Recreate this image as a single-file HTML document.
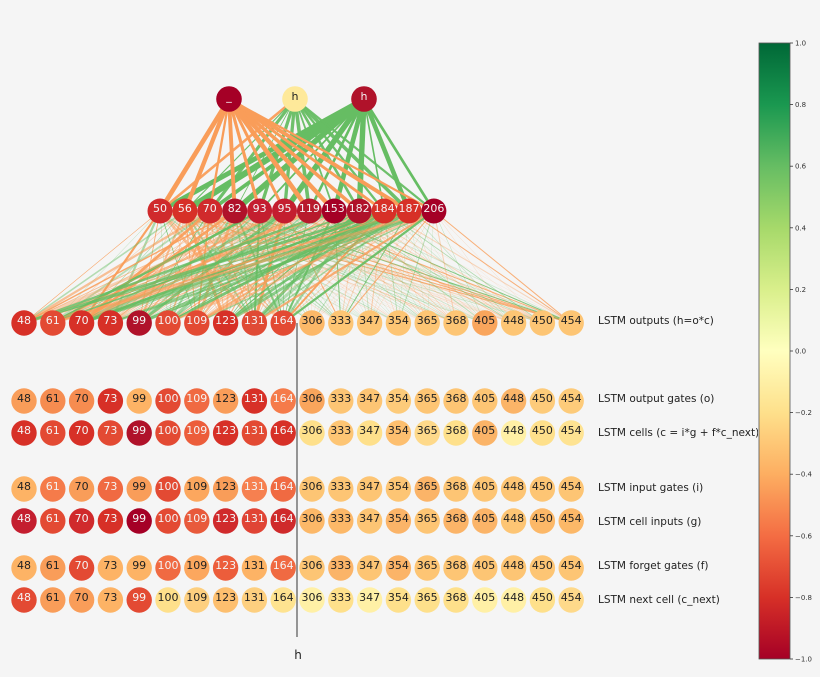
<!DOCTYPE html>
<html><head><meta charset="utf-8">
<style>
html,body{margin:0;padding:0;background:#f5f5f5;}
svg{display:block;}
text{font-family:"DejaVu Sans","Liberation Sans",sans-serif;}
</style></head>
<body>
<svg id="s" width="820" height="677" viewBox="0 0 820 677" xmlns="http://www.w3.org/2000/svg">
<defs>
<linearGradient id="cb" x1="0" y1="0" x2="0" y2="1">
<stop offset="0" stop-color="#006837"/>
<stop offset="0.1" stop-color="#1a9850"/>
<stop offset="0.2" stop-color="#66bd63"/>
<stop offset="0.3" stop-color="#a6d96a"/>
<stop offset="0.4" stop-color="#d9ef8b"/>
<stop offset="0.5" stop-color="#ffffbf"/>
<stop offset="0.6" stop-color="#fee08b"/>
<stop offset="0.7" stop-color="#fdae61"/>
<stop offset="0.8" stop-color="#f46d43"/>
<stop offset="0.9" stop-color="#d73027"/>
<stop offset="1" stop-color="#a50026"/>
</linearGradient>
</defs>
<rect width="820" height="677" fill="#f5f5f5"/>
<g id="edges"></g>
<line x1="297" y1="323" x2="297" y2="637" stroke="#555" stroke-width="1.2"/>
<g id="nodes"></g>
<text x="298" y="659" font-size="12" text-anchor="middle" fill="#222">h</text>
<g font-size="10.5" fill="#222">
<text x="598" y="324">LSTM outputs (h=o*c)</text>
<text x="598" y="402">LSTM output gates (o)</text>
<text x="598" y="436">LSTM cells (c = i*g + f*c_next)</text>
<text x="598" y="491">LSTM input gates (i)</text>
<text x="598" y="525">LSTM cell inputs (g)</text>
<text x="598" y="569">LSTM forget gates (f)</text>
<text x="598" y="603">LSTM next cell (c_next)</text>
</g>
<rect x="758" y="38" width="62" height="630" fill="#f5f5f5"/>
<rect x="759" y="43" width="31" height="616" fill="url(#cb)" stroke="#555" stroke-width="0.8"/>
<g id="ticks" font-size="7" fill="#333"></g>
</svg>
<script>
var NS="http://www.w3.org/2000/svg";
function el(t,a,p,txt){var e=document.createElementNS(NS,t);for(var k in a)e.setAttribute(k,a[k]);if(txt!==undefined)e.textContent=txt;p.appendChild(e);return e;}
var seed=12345;function rnd(){seed=(seed*16807)%2147483647;return (seed-1)/2147483646;}
var E=document.getElementById('edges'),N=document.getElementById('nodes'),T=document.getElementById('ticks');
var bx=[];for(var i=0;i<20;i++)bx.push(24+i*28.8);
var mx=[];for(var i=0;i<12;i++)mx.push(160+i*24.9);
// mid to bottom
for(var j=0;j<12;j++)for(var k=0;k<20;k++){
 var left=k<10, r=rnd(), g=rnd()<0.47;
 var w=left?(0.5+r*r*2.8):(0.3+r*0.8), op=left?(0.4+rnd()*0.6):(0.15+rnd()*0.35);
 if(!left && (k==11||k==19) && rnd()<0.6){w=1;op=0.8;}
 el('line',{x1:mx[j],y1:211,x2:bx[k],y2:323,stroke:g?'#66bd63':'#f99d59','stroke-width':w.toFixed(2),'stroke-opacity':op.toFixed(2)},E);
}
// top edges
for(var j=0;j<12;j++){
 el('line',{x1:229,y1:99,x2:mx[j],y2:211,stroke:'#f99d59','stroke-width':(1.5+rnd()*3.5).toFixed(1)},E);
 el('line',{x1:364,y1:99,x2:mx[j],y2:211,stroke:'#66bd63','stroke-width':(1.5+rnd()*5).toFixed(1)},E);
 var g=rnd()<0.75;
 el('line',{x1:295,y1:99,x2:mx[j],y2:211,stroke:g?'#66bd63':'#f99d59','stroke-width':(0.8+rnd()*3).toFixed(1),'stroke-opacity':0.95},E);
}
var nums=[48,61,70,73,99,100,109,123,131,164,306,333,347,354,365,368,405,448,450,454];
var A='#fdc574',P='#fee08b',Y='#fff0a6',O='#fbb468';
var rows=[
[323,['#d73027','#e34a33','#d73027','#d73027','#b0122a','#e34a33','#e34a33','#d73027','#e04a35','#e34a33','#fcb868',A,A,A,A,A,'#f9a55c',A,A,A]],
[401,['#f99d59','#f68c50','#f68c50','#d73027','#fdb365','#e34a33','#f06a42','#f99d59','#d73027','#f57b4a','#f9a55c',A,A,'#fdcb7a',A,A,A,O,'#fdcb7a','#fdcb7a']],
[433,['#d73027','#e34a33','#d73027','#e34a33','#b0122a','#e34a33','#ec5d3b','#d73027','#e34a33','#d73027',P,A,P,'#fdbf6f','#fed98a',P,O,Y,P,'#fee392']],
[489,['#fdb365','#f57b4a','#f99d59','#f06a42','#f99d59','#e34a33','#fca75e','#f99d59','#f68050','#f06a42',A,A,A,A,O,A,A,A,A,A]],
[521,['#c41e2f','#e34a33','#d02a2c','#d73027','#a50026','#e34a33','#e85a3b','#d02a2c','#e04435','#cf2a2b','#fcb868','#fcb868',A,'#fbb468',A,'#fbb468','#fbb468',A,'#fcb868','#fcb868']],
[568,['#fdb365','#f99d59','#e34a33','#fdb365','#fdb365','#f06a42','#fca75e','#ec5d3b','#fdb365','#f06a42',A,O,A,'#fbb468',A,A,A,A,A,A]],
[600,['#e34a33','#f99d59','#f99d59','#fdb365','#e34a33','#fee08b','#fdcf7f','#fdbf6f','#fdcf7f','#fee390',Y,P,Y,P,P,P,Y,Y,P,'#fed98a']]
];
var whiteSet={'#d73027':1,'#e34a33':1,'#b0122a':1,'#e04a35':1,'#ec5d3b':1,'#c41e2f':1,'#d02a2c':1,'#a50026':1,'#e85a3b':1,'#e04435':1,'#cf2a2b':1,'#f06a42':1,'#f57b4a':1,'#f68050':1,'#f68c50':1};
function node(x,y,r,c,t,wht){
 el('circle',{cx:x,cy:y,r:r,fill:c},N);
 el('text',{x:x,y:y+1,'font-size':11,'text-anchor':'middle',fill:wht?'#f4f4f4':'#222'},N,t);
}
rows.forEach(function(rw){
 for(var k=0;k<20;k++){var c=rw[1][k];
  var w=!!whiteSet[c];
  if(rw[0]==401&&(k==1||k==2))w=false;
  if(rw[0]==568&&(k==8))w=false;
  if(rw[0]==600&&(k==1||k==2))w=false;
  if(rw[0]==489&&(k==2))w=false;
  node(bx[k],rw[0],12.7,c,nums[k],w);}
});
var mn=[50,56,70,82,93,95,119,153,182,184,187,206];
var mc=['#d02a2c','#d73027','#d02a2c','#b0122a','#c41e2f','#c41e2f','#b81a2c','#a50026','#b0122a','#d73027','#d73027','#a50026'];
for(var j=0;j<12;j++)node(mx[j],211,12.5,mc[j],mn[j],true);
node(229,99,12.8,'#a50026','_',true);
node(295,99,12.8,'#fee99a','h',false);
node(364,99,12.8,'#b0122a','h',true);
var tv=['1.0','0.8','0.6','0.4','0.2','0.0','\u22120.2','\u22120.4','\u22120.6','\u22120.8','\u22121.0'];
for(var i=0;i<11;i++){var y=43+i*61.6;
 el('line',{x1:790,y1:y,x2:793,y2:y,stroke:'#333','stroke-width':0.8},T);
 el('text',{x:795,y:y+2.5},T,tv[i]);}
</script>
</body></html>
